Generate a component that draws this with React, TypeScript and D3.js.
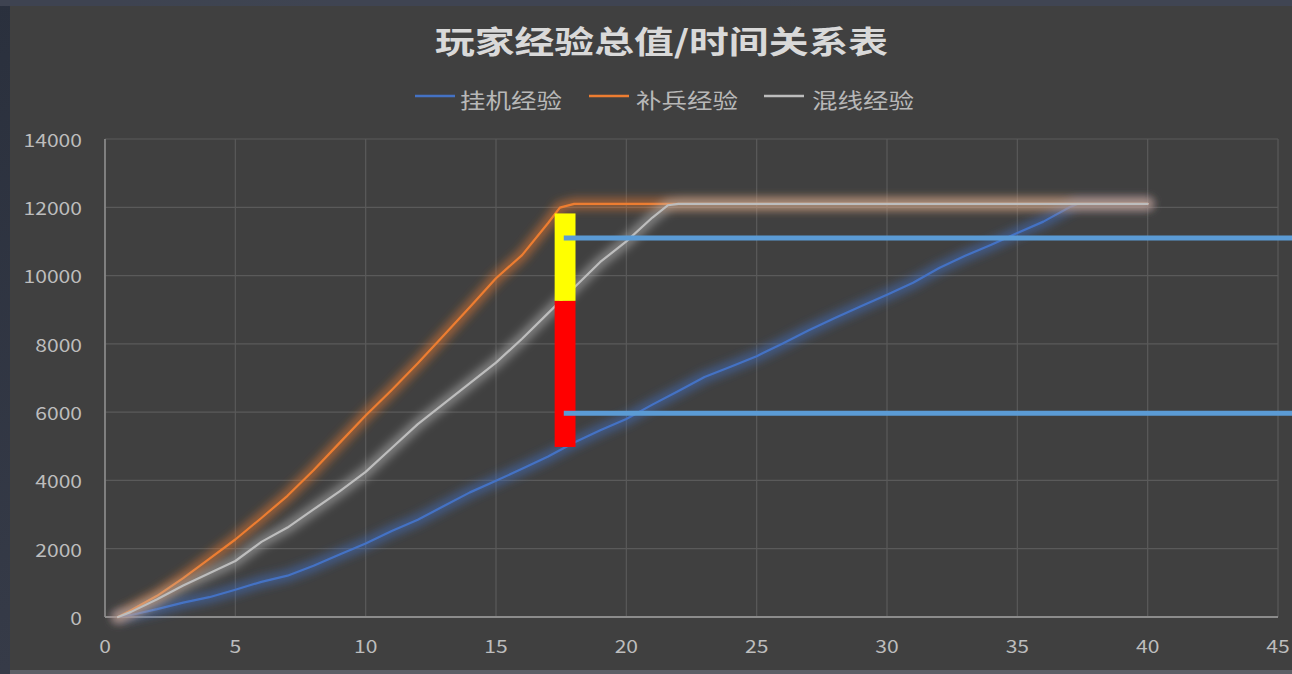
import React from 'react';
import * as d3 from 'd3';

// Canvas
const W = 1292;
const H = 674;

// Text
const chartTitle = '玩家经验总值/时间关系表';
const seriesNames = ['挂机经验', '补兵经验', '混线经验'];
const seriesColors = ['#4472c4', '#ed7d31', '#bdbdbd'];

// Axis ticks
const xTicks = [0, 5, 10, 15, 20, 25, 30, 35, 40, 45];
const yTicks = [0, 2000, 4000, 6000, 8000, 10000, 12000, 14000];

// 挂机经验 (time in minutes, total exp)
const afkTime = [0.5, 1, 2, 3, 4, 5, 6, 7, 8, 9, 10, 11, 12, 13, 14, 15, 16, 17, 18, 19, 20, 21, 22, 23, 24, 25, 26, 27, 28, 29, 30, 31, 32, 33, 34, 35, 36, 37, 37.3, 40];
const afkExp = [0, 60, 230, 420, 580, 800, 1030, 1210, 1500, 1830, 2150, 2520, 2850, 3250, 3650, 3990, 4340, 4700, 5110, 5470, 5800, 6220, 6620, 7030, 7330, 7640, 8010, 8400, 8760, 9100, 9440, 9790, 10220, 10580, 10900, 11250, 11580, 12000, 12100, 12100];

// 补兵经验
const lastHitTime = [0.5, 1, 2, 3, 4, 5, 6, 7, 8, 9, 10, 11, 12, 13, 14, 15, 16, 17, 17.45, 18, 40];
const lastHitExp = [0, 200, 620, 1140, 1700, 2270, 2900, 3550, 4300, 5100, 5900, 6650, 7430, 8250, 9080, 9920, 10600, 11540, 11990, 12100, 12100];

// 混线经验
const laneTime = [0.5, 1, 2, 3, 4, 5, 6, 7, 8, 9, 10, 11, 12, 13, 14, 15, 16, 17, 18, 19, 20, 21, 21.6, 22, 40];
const laneExp = [0, 150, 520, 920, 1280, 1640, 2200, 2620, 3150, 3680, 4250, 4950, 5650, 6250, 6850, 7450, 8150, 8900, 9650, 10400, 11000, 11700, 12060, 12100, 12100];

// Gap markers at ~17.6 min
const markTime = [17.25, 18.05];
const redRange = [4980, 9260];
const yellowRange = [9260, 11820];
const refStartTime = 17.6;
const refLevels = [11100, 5970];

const plot = { left: 105, right: 1278, top: 139, bottom: 617 };

const x = d3.scaleLinear().domain([0, 45]).range([plot.left, plot.right]);
const y = d3.scaleLinear().domain([0, 14000]).range([plot.bottom, plot.top]);

const lineGen = d3
  .line<[number, number]>()
  .x((d) => x(d[0]))
  .y((d) => y(d[1]));

const series = [
  { name: seriesNames[0], color: seriesColors[0], pts: afkTime.map((t, i) => [t, afkExp[i]] as [number, number]) },
  { name: seriesNames[1], color: seriesColors[1], pts: lastHitTime.map((t, i) => [t, lastHitExp[i]] as [number, number]) },
  { name: seriesNames[2], color: seriesColors[2], pts: laneTime.map((t, i) => [t, laneExp[i]] as [number, number]) },
];

const font = '"Noto Sans CJK SC", "Noto Sans", sans-serif';
const tickFill = '#bdbdbd';

const legendItems = [
  { mx: 415, tx: 460 },
  { mx: 589, tx: 636 },
  { mx: 764, tx: 812 },
];

export default function App() {
  return (
    <svg
      width={W}
      height={H}
      style={{ position: 'fixed', left: 0, top: 0, display: 'block' }}
      xmlns="http://www.w3.org/2000/svg"
    >
      <defs>
        <linearGradient id="desk" x1="0" y1="0" x2="1" y2="1">
          <stop offset="0" stopColor="#2a303d" />
          <stop offset="0.5" stopColor="#363b48" />
          <stop offset="1" stopColor="#2c3240" />
        </linearGradient>
        <filter id="glow" filterUnits="userSpaceOnUse" x="0" y="0" width={W} height={H}>
          <feGaussianBlur stdDeviation="4.5" />
        </filter>
      </defs>

      {/* surroundings and chart area */}
      <rect x={0} y={0} width={W} height={H} fill="url(#desk)" />
      <rect x={0} y={0} width={W} height={6} fill="#434956" opacity={0.8} />
      <rect x={10} y={6} width={W - 10} height={664} fill="#404040" />
      <rect x={10} y={670} width={W - 10} height={4} fill="#5c5f66" />

      {/* title */}
      <text
        x={435}
        y={39}
        textLength={453}
        lengthAdjust="spacingAndGlyphs"
        dominantBaseline="central"
        fontFamily={font}
        fontWeight={700}
        fontSize={31}
        fill="#d9d9d9"
      >
        {chartTitle}
      </text>

      {/* legend */}
      {series.map((s, i) => (
        <g key={s.name}>
          <line x1={legendItems[i].mx} x2={legendItems[i].mx + 40} y1={96} y2={96} stroke={s.color} strokeWidth={2.5} />
          <text
            x={legendItems[i].tx}
            y={99}
            textLength={102}
            lengthAdjust="spacingAndGlyphs"
            dominantBaseline="central"
            fontFamily={font}
            fontSize={21}
            fill="#b8b8b8"
          >
            {s.name}
          </text>
        </g>
      ))}

      {/* grid */}
      {yTicks.map((t) => (
        <line key={'gy' + t} x1={plot.left} x2={plot.right} y1={y(t)} y2={y(t)} stroke="#5a5a5a" strokeWidth={1.2} />
      ))}
      {xTicks.map((t) => (
        <line key={'gx' + t} x1={x(t)} x2={x(t)} y1={plot.top} y2={plot.bottom} stroke="#5a5a5a" strokeWidth={1.2} />
      ))}

      {/* axes */}
      <line x1={plot.left} x2={plot.left} y1={plot.top} y2={plot.bottom} stroke="#8c8c8c" strokeWidth={1.6} />
      <line x1={plot.left} x2={plot.right} y1={plot.bottom} y2={plot.bottom} stroke="#8c8c8c" strokeWidth={1.8} />

      {/* tick labels */}
      {yTicks.map((t) => (
        <text
          key={'ly' + t}
          transform={`translate(82,${y(t)}) scale(1.17,1)`}
          textAnchor="end"
          dominantBaseline="central"
          fontFamily={font}
          fontSize={18}
          fill={tickFill}
        >
          {t}
        </text>
      ))}
      {xTicks.map((t) => (
        <text
          key={'lx' + t}
          transform={`translate(${x(t)},645) scale(1.17,1)`}
          textAnchor="middle"
          dominantBaseline="central"
          fontFamily={font}
          fontSize={18}
          fill={tickFill}
        >
          {t}
        </text>
      ))}

      {/* series: soft glow then line */}
      {series.map((s) => (
        <g key={'s' + s.name}>
          <path d={lineGen(s.pts) || ''} fill="none" stroke={s.color} strokeWidth={12} strokeOpacity={0.5} filter="url(#glow)" strokeLinejoin="round" strokeLinecap="round" />
          <path d={lineGen(s.pts) || ''} fill="none" stroke={s.color} strokeWidth={2.2} strokeLinejoin="round" strokeLinecap="round" />
        </g>
      ))}

      {/* gap markers */}
      <rect x={x(markTime[0])} width={x(markTime[1]) - x(markTime[0])} y={y(redRange[1])} height={y(redRange[0]) - y(redRange[1])} fill="#ff0000" />
      <rect x={x(markTime[0])} width={x(markTime[1]) - x(markTime[0])} y={y(yellowRange[1])} height={y(yellowRange[0]) - y(yellowRange[1])} fill="#ffff00" />
      {refLevels.map((v) => (
        <line key={'ref' + v} x1={x(refStartTime)} x2={W} y1={y(v)} y2={y(v)} stroke="#5b9bd5" strokeWidth={5} />
      ))}
    </svg>
  );
}
